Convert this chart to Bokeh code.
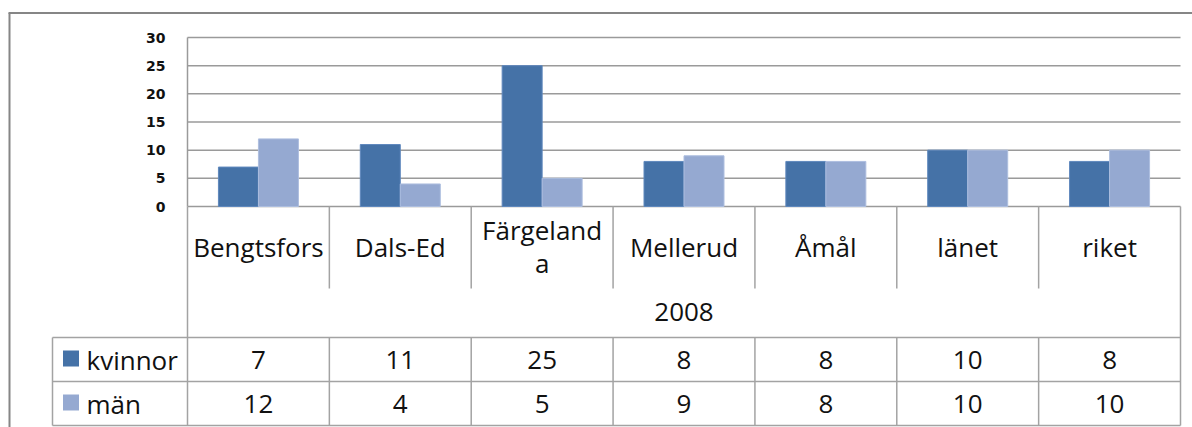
import numpy as np
from bokeh.plotting import figure
from bokeh.models import Range1d
from bokeh.core.properties import value
from bokeh.embed import file_html
from bokeh.resources import INLINE

# ---------------- data ----------------
categories = ["Bengtsfors", "Dals-Ed", "Färgelanda", "Mellerud", "Åmål", "länet", "riket"]
# category labels as they appear in the chart (Färgelanda wraps in its cell)
category_labels = ["Bengtsfors", "Dals-Ed", "Färgeland\na", "Mellerud", "Åmål", "länet", "riket"]
group_label = "2008"
series_names = ["kvinnor", "män"]
kvinnor = [7, 11, 25, 8, 8, 10, 8]
man = [12, 4, 5, 9, 8, 10, 10]
yticks = [0, 5, 10, 15, 20, 25, 30]

# ---------------- style / layout ----------------
DARK = "#4572A7"
LIGHT = "#95A9D1"
GRID = "#9a9a9a"
TABLE_LINE = "#a3a3a3"
BORDER = "#868686"
TEXT = "#111111"
FONT = "Open Sans"
FS = "26px"

W, H = 1192, 427           # figure size
PX0, PY0 = 0, 0            # figure origin on page
PLOT_L, PLOT_R = 187, 1180
PLOT_T, PLOT_B = 37, 206
CAT_ROW_B = 288
GROUP_ROW_B = 337
ROW1_B = 381
ROW2_B = 425
TABLE_L = 52
LINE_STEP = 33

n = len(categories)
unit = (PLOT_R - PLOT_L) / n
vpx = (PLOT_B - PLOT_T) / max(yticks)


def xd(px):
    return (px - PLOT_L) / unit


def tab(py):
    return py - PLOT_B


p = figure(width=W, height=H,
           x_range=Range1d(xd(PX0), xd(PX0 + W)),
           y_range=Range1d((PLOT_B - (PY0 + H)) / vpx, (PLOT_B - PY0) / vpx),
           output_backend="svg", toolbar_location=None, min_border=0,
           x_axis_location=None, y_axis_location=None)
p.extra_y_ranges = {"tab": Range1d(start=tab(PY0 + H), end=tab(PY0))}
p.outline_line_color = None
p.background_fill_color = "white"
p.border_fill_color = "white"
p.grid.visible = False

centers = np.arange(n) + 0.5
bw = 40 / unit

# outer chart border (top + left)
p.segment(x0=[xd(8), xd(9)], x1=[xd(PX0 + W), xd(9)],
          y0=[tab(12.5), tab(12.5)], y1=[tab(12.5), tab(PY0 + H)],
          y_range_name="tab", line_color=BORDER, line_width=2)

# gridlines
p.segment(x0=0, x1=n, y0=yticks, y1=yticks, line_color=GRID, line_width=1.5)

# bars
p.vbar(x=centers - bw / 2, width=bw, top=kvinnor, bottom=0,
       fill_color=DARK, line_color="#5f88bd", line_width=1)
p.vbar(x=centers + bw / 2, width=bw, top=man, bottom=0,
       fill_color=LIGHT, line_color="#adbedf", line_width=1)

# value axis line and tick labels
p.segment(x0=0, x1=0, y0=0, y1=max(yticks), line_color=GRID, line_width=1.5)
p.text(x=0, y=yticks, text=[str(t) for t in yticks], x_offset=-(PLOT_L - 165),
       text_align="right", text_baseline="middle", text_color=TEXT,
       text_font=value("DejaVu Sans"), text_font_style="bold", text_font_size="14px")

# data table lines
edges = np.arange(n + 1)
p.segment(x0=[0, n], x1=[0, n], y0=[tab(PLOT_B), tab(PLOT_B)], y1=[tab(ROW2_B)] * 2,
          y_range_name="tab", line_color=TABLE_LINE, line_width=1.5)
inner = edges[1:-1]
p.segment(x0=inner, x1=inner, y0=tab(PLOT_B), y1=tab(CAT_ROW_B),
          y_range_name="tab", line_color=TABLE_LINE, line_width=1.5)
p.segment(x0=inner, x1=inner, y0=tab(GROUP_ROW_B), y1=tab(ROW2_B),
          y_range_name="tab", line_color=TABLE_LINE, line_width=1.5)
p.segment(x0=xd(TABLE_L), x1=n, y0=[tab(GROUP_ROW_B), tab(ROW1_B), tab(ROW2_B)],
          y1=[tab(GROUP_ROW_B), tab(ROW1_B), tab(ROW2_B)],
          y_range_name="tab", line_color=TABLE_LINE, line_width=1.5)
p.segment(x0=xd(TABLE_L), x1=xd(TABLE_L), y0=tab(GROUP_ROW_B), y1=tab(ROW2_B),
          y_range_name="tab", line_color=TABLE_LINE, line_width=1.5)

# category labels (multi-line labels split into centred lines)
lx, ly, lt = [], [], []
for c, lab in zip(centers, category_labels):
    lines = lab.split("\n")
    k = len(lines)
    for j, s in enumerate(lines):
        lx.append(c)
        ly.append(tab(246) + (j - (k - 1) / 2) * LINE_STEP)
        lt.append(s)
p.text(x=lx, y=ly, text=lt, y_range_name="tab",
       text_align="center", text_baseline="middle", text_color=TEXT,
       text_font=value(FONT), text_font_size=FS)
# group label
p.text(x=[n / 2], y=[tab(311)], text=[group_label], y_range_name="tab",
       text_align="center", text_baseline="middle", text_color=TEXT,
       text_font=value(FONT), text_font_size=FS)

# table values
row_y = [tab((GROUP_ROW_B + ROW1_B) / 2), tab((ROW1_B + ROW2_B) / 2)]
for vals, ry in zip([kvinnor, man], row_y):
    p.text(x=centers, y=ry, text=[str(v) for v in vals], y_range_name="tab",
           text_align="center", text_baseline="middle", text_color=TEXT,
           text_font=value(FONT), text_font_size=FS)

# legend keys in table
p.scatter(x=xd(70.5), y=[r - 1 for r in row_y], marker="square", size=16,
          fill_color=[DARK, LIGHT], line_color=None, y_range_name="tab")
p.text(x=xd(86), y=row_y, text=series_names, y_range_name="tab",
       text_align="left", text_baseline="middle", text_color=TEXT,
       text_font=value(FONT), text_font_size=FS)

open("out.html", "w").write(file_html(p, INLINE))
